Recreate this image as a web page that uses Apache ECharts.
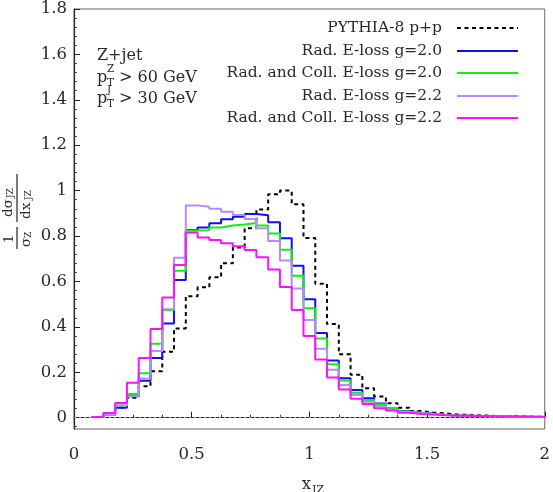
<!DOCTYPE html>
<html>
<head>
<meta charset="utf-8">
<script src="https://cdn.jsdelivr.net/npm/echarts@6/dist/echarts.min.js"></script>
<style>
  html, body { margin: 0; padding: 0; background: #fff; }
  #chart { width: 553px; height: 492px; }
</style>
</head>
<body>
<div id="chart"></div>
<script>
// bin centres (width 0.05)
const binCenters = [0.10, 0.15, 0.20, 0.25, 0.30, 0.35, 0.40, 0.45, 0.50, 0.55,
  0.60, 0.65, 0.70, 0.75, 0.80, 0.85, 0.90, 0.95, 1.00, 1.05,
  1.10, 1.15, 1.20, 1.25, 1.30, 1.35, 1.40, 1.45, 1.50, 1.55,
  1.60, 1.65, 1.70, 1.75, 1.80, 1.85, 1.90, 1.95, 2.00]
const binWidth = 0.05

// PYTHIA-8 p+p
const pythia = [0.003, 0.012, 0.045, 0.088, 0.138, 0.204, 0.290, 0.393, 0.535, 0.574,
  0.618, 0.680, 0.750, 0.834, 0.917, 0.984, 1.000, 0.940, 0.791, 0.590,
  0.412, 0.279, 0.189, 0.129, 0.093, 0.063, 0.044, 0.029, 0.023, 0.019,
  0.014, 0.012, 0.010, 0.008, 0.007, 0.006, 0.005, 0.004, 0.004]
// Rad. E-loss g=2.0
const rad20 = [0.003, 0.013, 0.044, 0.094, 0.162, 0.263, 0.415, 0.606, 0.826, 0.838,
  0.856, 0.874, 0.885, 0.897, 0.892, 0.861, 0.790, 0.669, 0.521, 0.373,
  0.252, 0.174, 0.122, 0.085, 0.062, 0.040, 0.028, 0.022, 0.018, 0.013,
  0.010, 0.008, 0.007, 0.006, 0.005, 0.004, 0.004, 0.003, 0.003]
// Rad. and Coll. E-loss g=2.0
const radColl20 = [0.003, 0.013, 0.054, 0.104, 0.196, 0.325, 0.474, 0.647, 0.824, 0.826,
  0.838, 0.846, 0.851, 0.857, 0.846, 0.811, 0.740, 0.625, 0.482, 0.349,
  0.235, 0.164, 0.110, 0.078, 0.059, 0.038, 0.027, 0.021, 0.017, 0.013,
  0.010, 0.008, 0.007, 0.006, 0.005, 0.004, 0.004, 0.003, 0.003]
// Rad. E-loss g=2.2
const rad22 = [0.003, 0.013, 0.054, 0.094, 0.172, 0.294, 0.478, 0.704, 0.935, 0.929,
  0.920, 0.907, 0.893, 0.875, 0.834, 0.778, 0.692, 0.569, 0.430, 0.304,
  0.211, 0.144, 0.100, 0.070, 0.051, 0.035, 0.025, 0.020, 0.016, 0.012,
  0.009, 0.008, 0.007, 0.006, 0.005, 0.004, 0.004, 0.003, 0.003]
// Rad. and Coll. E-loss g=2.2
const radColl22 = [0.003, 0.021, 0.064, 0.154, 0.263, 0.391, 0.529, 0.672, 0.816, 0.793,
  0.782, 0.768, 0.755, 0.738, 0.706, 0.653, 0.576, 0.474, 0.360, 0.256,
  0.177, 0.124, 0.083, 0.060, 0.041, 0.031, 0.022, 0.016, 0.014, 0.011,
  0.009, 0.008, 0.007, 0.006, 0.005, 0.005, 0.004, 0.004, 0.004]

const yTicks = [0, 0.2, 0.4, 0.6, 0.8, 1, 1.2, 1.4, 1.6, 1.8]

const FONT = 'DejaVu Serif'
const INK = '#2a2a2a'

// histogram -> step points at bin edges
const toSteps = (vals) => {
  const pts = vals.map((v, i) => [binCenters[i] - binWidth / 2, v])
  pts.push([binCenters[binCenters.length - 1] + binWidth / 2, vals[vals.length - 1]])
  return pts
}

// minor y ticks every 0.04
const yMinor = []
for (let k = -1; k <= 45; k++) {
  if (k % 5 !== 0) yMinor.push(+(k * 0.04).toFixed(2))
}

const seriesDefs = [
  { name: 'PYTHIA-8 p+p', data: pythia, color: '#000000', type: [4, 3.5] },
  { name: 'Rad. E-loss g=2.0', data: rad20, color: '#1010ee', type: 'solid' },
  { name: 'Rad. and Coll. E-loss g=2.0', data: radColl20, color: '#12ee12', type: 'solid' },
  { name: 'Rad. E-loss g=2.2', data: rad22, color: '#b48cff', type: 'solid' },
  { name: 'Rad. and Coll. E-loss g=2.2', data: radColl22, color: '#ff10ff', type: 'solid' }
]

const legendRows = [28, 51, 73, 96, 118]

const txt = (x, y, text, size, align) => ({
  type: 'text', x, y, silent: true,
  style: { text, fontFamily: FONT, fontSize: size, fill: INK, align: align || 'left', verticalAlign: 'middle' }
})

const chart = echarts.init(document.getElementById('chart'))

const option = {
  animation: false,
  backgroundColor: '#fff',
  grid: { left: 74, right: 6, top: 9, bottom: 63, show: true, borderColor: '#666', borderWidth: 1 },
  legend: seriesDefs.map((s, i) => ({
    data: [s.name],
    right: 34,
    top: legendRows[i] - 8,
    padding: 0,
    align: 'right',
    itemWidth: 61,
    itemHeight: 16,
    selectedMode: false,
    itemStyle: { opacity: 0 },
    textStyle: { fontFamily: FONT, fontSize: 15.5, color: INK, padding: [0, 10, 0, 0] }
  })),
  xAxis: {
    type: 'value',
    min: 0,
    max: 2,
    interval: 0.5,
    axisLine: { lineStyle: { color: '#222', width: 1.2 } },
    axisTick: { inside: true, length: 6, lineStyle: { color: '#222' } },
    minorTick: { show: true, splitNumber: 4, length: 3, lineStyle: { color: '#444' } },
    splitLine: { show: false },
    axisLabel: { fontFamily: FONT, fontSize: 16.5, color: INK, margin: 17 }
  },
  yAxis: [
    {
      type: 'value',
      min: -0.05,
      max: 1.8,
      axisLine: { show: true, lineStyle: { color: '#222', width: 1.2 } },
      axisTick: { show: true, inside: true, length: 6, customValues: yTicks, lineStyle: { color: '#222' } },
      axisLabel: { fontFamily: FONT, fontSize: 16.5, color: INK, margin: 7, customValues: yTicks },
      splitLine: { show: false }
    },
    {
      type: 'value',
      position: 'left',
      min: -0.05,
      max: 1.8,
      axisLine: { show: false },
      axisTick: { show: true, inside: true, length: 3, customValues: yMinor, lineStyle: { color: '#444' } },
      axisLabel: { show: false },
      splitLine: { show: false }
    }
  ],
  series: seriesDefs.map((s, i) => {
    const ser = {
      name: s.name,
      type: 'line',
      step: 'end',
      symbol: 'none',
      yAxisIndex: 0,
      data: toSteps(s.data),
      itemStyle: { color: s.color },
      lineStyle: { color: s.color, width: 2, type: s.type },
      z: 3 + i
    }
    if (i === 0) {
      ser.markLine = {
        silent: true,
        symbol: 'none',
        label: { show: false },
        lineStyle: { color: '#999', width: 1, type: [2, 3] },
        data: [{ yAxis: 0 }]
      }
    }
    return ser
  }),
  graphic: [
    // cuts
    txt(97, 56, 'Z+jet', 16),
    txt(97, 78, 'p', 16),
    txt(107, 69, 'Z', 10.5),
    txt(107, 83, 'T', 10.5),
    txt(119, 78, '> 60 GeV', 16),
    txt(97, 99, 'p', 16),
    txt(107, 90, 'J', 10.5),
    txt(107, 104, 'T', 10.5),
    txt(119, 99, '> 30 GeV', 16),
    // x axis title
    txt(311, 485, 'x', 16.5, 'right'),
    txt(312, 490, 'JZ', 11),
    // y axis title, rotated
    {
      type: 'group',
      x: 17,
      y: 250,
      rotation: Math.PI / 2,
      silent: true,
      children: [
        txt(11, -8, '1', 13.5, 'center'),
        { type: 'line', shape: { x1: 1, y1: 0, x2: 23, y2: 0 }, style: { stroke: '#222', lineWidth: 1.2 } },
        txt(3, 9, 'σ', 13.5),
        txt(12, 12, 'Z', 9),
        { type: 'line', shape: { x1: 28, y1: 0, x2: 76, y2: 0 }, style: { stroke: '#222', lineWidth: 1.2 } },
        txt(33, -9, 'dσ', 13.5),
        txt(52, -6, 'JZ', 9),
        txt(31, 9, 'dx', 13.5),
        txt(50, 12, 'JZ', 9)
      ]
    }
  ]
}

chart.setOption(option)
</script>
</body>
</html>
